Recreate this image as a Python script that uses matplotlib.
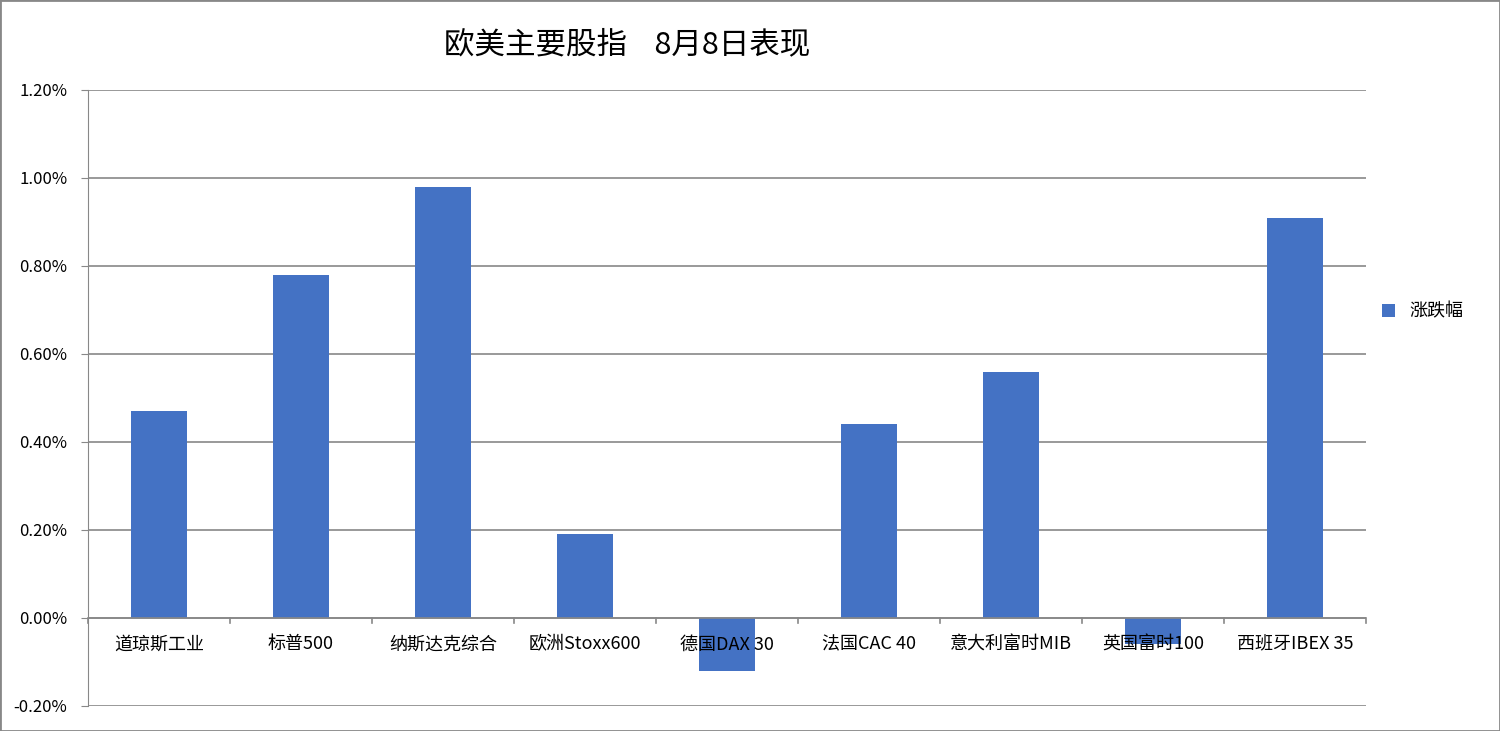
import matplotlib
matplotlib.use("Agg")
import matplotlib.pyplot as plt
from matplotlib.patches import Rectangle
import numpy as np

plt.rcParams['font.family'] = ['Noto Sans CJK SC', 'DejaVu Sans']

categories = ["道琼斯工业", "标普500", "纳斯达克综合", "欧洲Stoxx600", "德国DAX 30",
              "法国CAC 40", "意大利富时MIB", "英国富时100", "西班牙IBEX 35"]
values = [0.47, 0.78, 0.98, 0.19, -0.12, 0.44, 0.56, -0.06, 0.91]
yticks = [-0.2, 0.0, 0.2, 0.4, 0.6, 0.8, 1.0, 1.2]

fig = plt.figure(figsize=(15, 7.31), dpi=100)
fig.patches.append(Rectangle((0, 0), 1, 1, transform=fig.transFigure, fill=False,
                             edgecolor='#888888', linewidth=2))
ax = fig.add_axes([88/1500, 25/731, (1366-88)/1500, (706-90)/731])
x = np.arange(len(categories))
ax.bar(x, values, width=0.4, color='#4472C4', label='涨跌幅', zorder=3)
ax.set_xlim(-0.5, len(categories)-0.5)
ax.set_ylim(-0.2, 1.2)
ax.set_yticks(yticks)
ax.set_yticklabels([f"{v:.2f}%" for v in yticks], fontsize=12)
ax.grid(axis='y', color='#888888', linewidth=1.2, zorder=0)
for s in ['top', 'right', 'bottom']:
    ax.spines[s].set_visible(False)
ax.spines['left'].set_color('#888888')
ax.tick_params(axis='y', length=5, color='#888888', pad=10)
ax.set_xticks([])
ax.axhline(0, color='#888888', linewidth=1.2, zorder=4)
for b in np.arange(-0.5, len(categories)):
    ax.plot([b, b], [0, -0.012], color='#888888', linewidth=1.2, clip_on=False, zorder=4)
for xi, c in zip(x, categories):
    ax.text(xi, -0.06, c, ha='center', va='center', fontsize=13, zorder=5)
fig.text(627/1500, 1-45/731, "欧美主要股指    8月8日表现", ha='center', va='center', fontsize=22)
ax.legend(loc='center left', bbox_to_anchor=(1.0, 0.64), frameon=False, fontsize=13,
          handlelength=0.7, handleheight=0.7)
fig.savefig("out.png", dpi=100)
